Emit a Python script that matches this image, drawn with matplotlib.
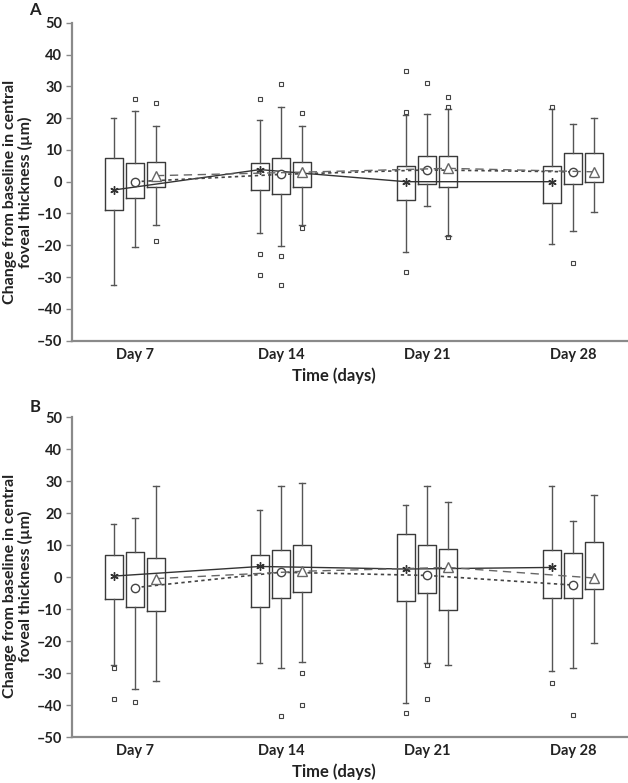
import matplotlib
matplotlib.use("Agg")
import matplotlib.pyplot as plt

plt.rcParams['font.family'] = ['Lato', 'DejaVu Sans']

days = ["Day 7", "Day 14", "Day 21", "Day 28"]
yticks = list(range(-50, 51, 10))

# ---- panel A: whisker top, Q3, Q1, whisker bottom, mean, outliers (per day)
a1_hi = [20, 19.5, 21, 23]
a1_q3 = [7.5, 6, 5, 5]
a1_q1 = [-9, -2.5, -5.8, -6.8]
a1_lo = [-32.5, -16, -22, -19.5]
a1_mean = [-2.6, 3.8, 0, 0]
a1_out = [[], [26, -22.7, -29.3], [34.8, 21.8, -28.5], [23.6]]

a2_hi = [22.3, 23.6, 21.3, 18]
a2_q3 = [6, 7.5, 8.2, 9.1]
a2_q1 = [-5.2, -3.9, -0.8, -0.8]
a2_lo = [-20.6, -20.1, -7.6, -15.5]
a2_mean = [0, 2.3, 3.7, 3.1]
a2_out = [[25.9], [30.6, -23.4, -32.5], [30.9], [-25.5]]

a3_hi = [17.6, 17.6, 23, 19.9]
a3_q3 = [6.1, 6.1, 8.2, 9.1]
a3_q1 = [-1.8, -1.8, -1.8, 0]
a3_lo = [-13.6, -13.6, -17, -9.6]
a3_mean = [1.9, 3.0, 4.2, 3.1]
a3_out = [[24.8, -18.6], [21.7, -14.7], [26.7, 23.6, -17.3], []]

# ---- panel B
b1_hi = [16.5, 21, 22.5, 28.5]
b1_q3 = [6.8, 6.8, 13.5, 8.5]
b1_q1 = [-7, -9.5, -7.5, -6.5]
b1_lo = [-27.5, -27, -39.5, -29.5]
b1_mean = [0.3, 3.3, 2.5, 3.0]
b1_out = [[-28.5, -38], [], [-42.5], [-33]]

b2_hi = [18.5, 28.5, 28.5, 17.5]
b2_q3 = [7.8, 8.5, 10, 7.5]
b2_q1 = [-9.5, -6.5, -5, -6.5]
b2_lo = [-35, -28.5, -27, -28.5]
b2_mean = [-3.3, 1.5, 0.5, -2.5]
b2_out = [[-39], [-43.5], [-27.5, -38], [-43]]

b3_hi = [28.5, 29.5, 23.5, 25.5]
b3_q3 = [5.8, 10, 8.8, 10.8]
b3_q1 = [-10.5, -4.8, -10.2, -3.8]
b3_lo = [-32.5, -26.5, -27.5, -20.5]
b3_mean = [-0.5, 1.8, 3.0, -0.3]
b3_out = [[], [-30, -40], [], []]

panel_a = [(a1_hi, a1_q3, a1_q1, a1_lo, a1_mean, a1_out),
           (a2_hi, a2_q3, a2_q1, a2_lo, a2_mean, a2_out),
           (a3_hi, a3_q3, a3_q1, a3_lo, a3_mean, a3_out)]
panel_b = [(b1_hi, b1_q3, b1_q1, b1_lo, b1_mean, b1_out),
           (b2_hi, b2_q3, b2_q1, b2_lo, b2_mean, b2_out),
           (b3_hi, b3_q3, b3_q1, b3_lo, b3_mean, b3_out)]

offsets = [-0.144, 0.0, 0.144]
mean_style = [
    dict(marker=(6, 2, 0), ms=6, mew=1.0, ls="-", lw=1.0, color="#333333"),
    dict(marker="o", ms=6, mew=1.0, ls=(0, (2, 2)), lw=1.2, color="#444444", mfc="white"),
    dict(marker="^", ms=7, mew=1.0, ls=(0, (6, 4)), lw=1.0, color="#666666", mfc="white"),
]
edge = "#3a3a3a"


def draw_panel(ax, groups):
    for g, (hi, q3, q1, lo, mean, out) in enumerate(groups):
        pos = [i + offsets[g] for i in range(len(days))]
        stats = [dict(med=mean[i], q1=q1[i], q3=q3[i], whislo=lo[i],
                      whishi=hi[i], fliers=out[i]) for i in range(len(days))]
        ax.bxp(stats, positions=pos, widths=0.118, capwidths=0.035,
               showfliers=True, manage_ticks=False,
               boxprops=dict(color=edge, lw=1.0),
               whiskerprops=dict(color="#555555", lw=1.0),
               capprops=dict(color="#555555", lw=1.0),
               medianprops=dict(lw=0),
               flierprops=dict(marker="s", ms=3.2, mfc="none", mec="#444444", mew=0.8))
        st = mean_style[g]
        ax.plot(pos, mean, zorder=4, mec=st["color"], **st)

    ax.set_xlim(-0.4315, 3.377)
    ax.set_ylim(-50, 50)
    ax.set_yticks(yticks)
    ax.set_yticklabels([str(t).replace("-", "\u2013") for t in yticks])
    ax.set_xticks(range(len(days)))
    ax.set_xticklabels(days)
    for s in ("top", "right"):
        ax.spines[s].set_visible(False)
    for s in ("left", "bottom"):
        ax.spines[s].set_color("#8a8a8a")
        ax.spines[s].set_linewidth(1.6)
    ax.tick_params(axis="y", length=4, width=1, color="#8a8a8a", pad=3,
                   labelsize=10.5, labelcolor="#222222")
    ax.tick_params(axis="x", length=0, pad=5, labelsize=10.5, labelcolor="#222222")
    for t in ax.get_xticklabels() + ax.get_yticklabels():
        t.set_fontweight("bold")


fig = plt.figure(figsize=(6.28, 7.83), dpi=100)
ax_a = fig.add_axes([0.1146, 0.5649, 0.8854, 0.4061])
ax_b = fig.add_axes([0.1146, 0.0587, 0.8854, 0.4087])
draw_panel(ax_a, panel_a)
draw_panel(ax_b, panel_b)

ylab = "Change from baseline in central\nfoveal thickness (\u00b5m)"
for yc in (192, 586):
    fig.text(18 / 628, 1 - yc / 783, ylab, rotation=90, ha="center", va="center",
             multialignment="center", fontsize=11.5, fontweight="bold", color="#222222",
             linespacing=1.0)
for yc in (376, 772):
    fig.text(334 / 628, 1 - yc / 783, "Time (days)", ha="center", va="center",
             fontsize=12, fontweight="bold", color="#222222")
fig.text(35 / 628, 1 - 10 / 783, "A", ha="center", va="center",
         fontsize=12, fontweight="bold", color="#222222")
fig.text(35 / 628, 1 - 407 / 783, "B", ha="center", va="center",
         fontsize=12, fontweight="bold", color="#222222")

fig.savefig("out.png", dpi=100)
